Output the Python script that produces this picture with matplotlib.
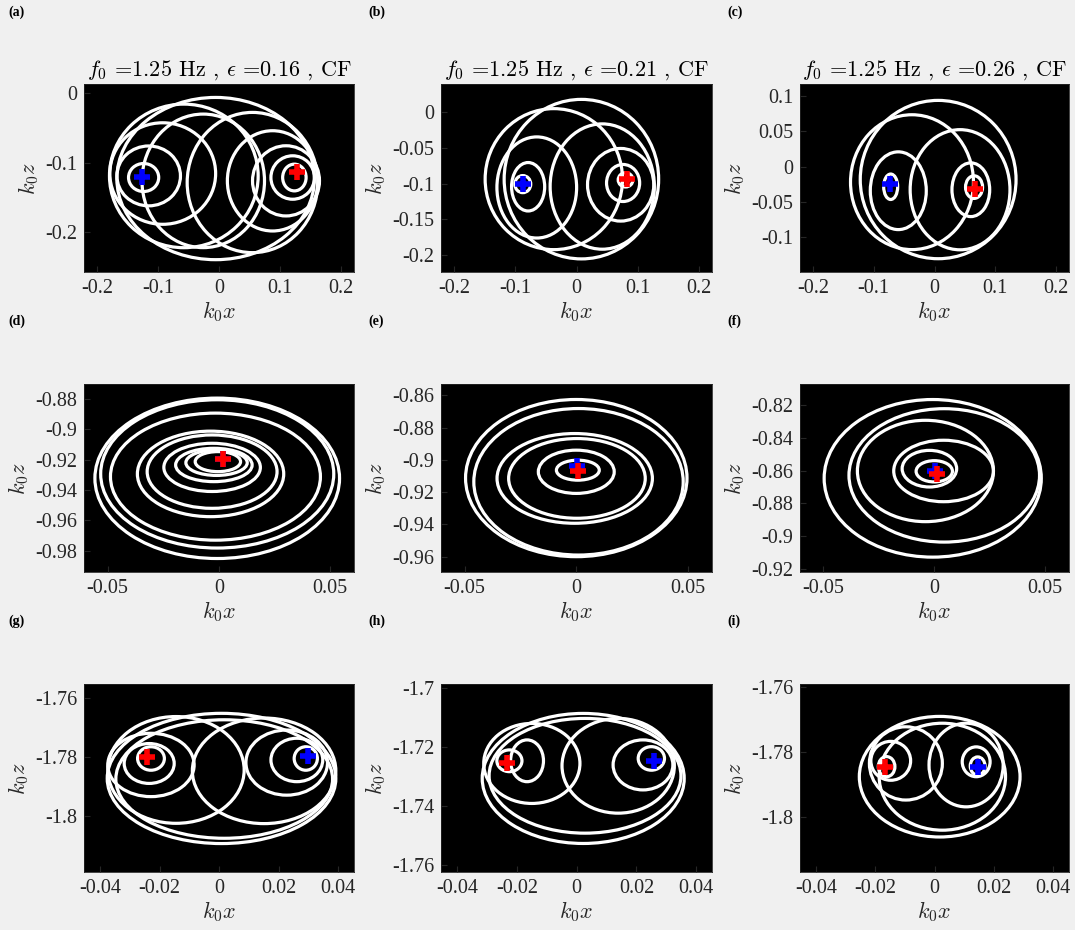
import numpy as np
import matplotlib
matplotlib.use('Agg')
import matplotlib.pyplot as plt
from matplotlib.patches import Ellipse

plt.rcParams['mathtext.fontset'] = 'cm'
plt.rcParams['axes.unicode_minus'] = False
plt.rcParams['font.family'] = ['Liberation Serif', 'DejaVu Serif']

f0 = 1.25
eps_vals = [0.16, 0.21, 0.26]
panel_tags = ['(a)', '(b)', '(c)', '(d)', '(e)', '(f)', '(g)', '(h)', '(i)']

# orbit loops of each run: (centre x, centre z, half-width, half-height)
loops_a = [(-0.1234, -0.1213, 0.0247, 0.0201), (-0.1151, -0.1190, 0.0520, 0.0430),
           (-0.0921, -0.1156, 0.0866, 0.0729), (-0.0576, -0.1190, 0.1217, 0.1031),
           (-0.0258, -0.1261, 0.1003, 0.0959), (-0.0055, -0.1228, 0.1617, 0.1165),
           (0.0548, -0.1285, 0.1069, 0.1007), (0.0877, -0.1261, 0.0740, 0.0720),
           (0.1097, -0.1261, 0.0548, 0.0504), (0.1206, -0.1213, 0.0356, 0.0312),
           (0.1234, -0.1213, 0.0192, 0.0192)]
loops_b = [(-0.0876, -0.1006, 0.013, 0.012), (-0.0789, -0.1043, 0.027, 0.034),
           (-0.0648, -0.1053, 0.065, 0.071), (-0.0370, -0.0936, 0.112, 0.099),
           (0.0080, -0.0936, 0.126, 0.112), (0.0420, -0.1040, 0.085, 0.088),
           (0.0720, -0.1015, 0.054, 0.051), (0.0760, -0.0990, 0.027, 0.026),
           (0.0800, -0.0946, 0.012, 0.010)]
loops_c = [(-0.0720, -0.0284, 0.0115, 0.018), (-0.0595, -0.0340, 0.046, 0.055),
           (-0.0370, -0.0219, 0.101, 0.0954), (0.0060, -0.0182, 0.128, 0.112),
           (0.0420, -0.0326, 0.082, 0.085), (0.0597, -0.0326, 0.031, 0.038),
           (0.0650, -0.0289, 0.014, 0.016)]
loops_d = [(-0.0007, -0.9322, 0.0550, 0.0529), (-0.0007, -0.9293, 0.0524, 0.0489),
           (-0.0015, -0.9311, 0.0472, 0.0419), (-0.0037, -0.9293, 0.0329, 0.0282),
           (-0.0030, -0.9278, 0.0292, 0.0242), (-0.0030, -0.9250, 0.0217, 0.0159),
           (-0.0022, -0.9234, 0.0172, 0.0110), (-0.0010, -0.9219, 0.0138, 0.0084),
           (-0.0004, -0.9212, 0.0102, 0.0066)]
loops_e = [(0.0000, -0.9113, 0.0496, 0.0487), (0.0010, -0.9136, 0.0469, 0.0454),
           (-0.0007, -0.9115, 0.0348, 0.0278), (0.0003, -0.9115, 0.0306, 0.0247),
           (0.0000, -0.9074, 0.0170, 0.0134), (0.0007, -0.9064, 0.0096, 0.0062)]
loops_f = [(-0.0007, -0.8647, 0.0490, 0.0482), (0.0045, -0.8629, 0.0430, 0.0408),
           (-0.0040, -0.8602, 0.0307, 0.0310), (0.0042, -0.8602, 0.0225, 0.0188),
           (-0.0022, -0.8588, 0.0123, 0.0112), (0.0000, -0.8604, 0.0082, 0.0065)]
loops_g = [(-0.0229, -1.7805, 0.0045, 0.0040), (-0.0235, -1.7822, 0.0084, 0.0068),
           (-0.0229, -1.7827, 0.0145, 0.0108), (-0.0145, -1.7844, 0.0229, 0.0182),
           (0.0008, -1.7873, 0.0384, 0.0222), (0.0017, -1.7875, 0.0364, 0.0202),
           (0.0151, -1.7847, 0.0241, 0.0180), (0.0227, -1.7819, 0.0137, 0.0111),
           (0.0261, -1.7810, 0.0087, 0.0074), (0.0291, -1.7805, 0.0039, 0.0040)]
loops_h = [(-0.0225, -1.7246, 0.0042, 0.0037), (-0.0166, -1.7246, 0.0055, 0.0071),
           (-0.0150, -1.7255, 0.0161, 0.0136), (0.0022, -1.7306, 0.0338, 0.0221),
           (0.0028, -1.7297, 0.0321, 0.0195), (0.0139, -1.7263, 0.0188, 0.0161),
           (0.0222, -1.7260, 0.0100, 0.0085), (0.0250, -1.7238, 0.0044, 0.0040)]
loops_i = [(-0.0162, -1.7845, 0.0028, 0.0031), (-0.0148, -1.7827, 0.0067, 0.0060),
           (-0.0097, -1.7835, 0.0123, 0.0113), (0.0017, -1.7876, 0.0271, 0.0186),
           (0.0026, -1.7876, 0.0213, 0.0165), (0.0106, -1.7840, 0.0125, 0.0129),
           (0.0140, -1.7830, 0.0047, 0.0046), (0.0145, -1.7843, 0.0025, 0.0028)]
all_loops = [loops_a, loops_b, loops_c, loops_d, loops_e, loops_f, loops_g, loops_h, loops_i]

# start (blue) and end (red) positions
blue_pos = [(-0.126, -0.1204), (-0.088, -0.1006), (-0.0726, -0.0251),
            (0.0019, -0.9196), (0.0003, -0.9039), (0.0004, -0.8600),
            (0.0297, -1.7795), (0.0258, -1.7246), (0.0145, -1.7847)]
red_pos = [(0.127, -0.1132), (0.083, -0.0936), (0.0667, -0.0312),
           (0.0019, -0.9196), (0.0007, -0.9070), (0.0012, -0.8618),
           (-0.0241, -1.7800), (-0.0233, -1.7252), (-0.0167, -1.7847)]

xlims = [(-0.221, 0.221)] * 3 + [(-0.0606, 0.0608)] * 3 + [(-0.0454, 0.0453)] * 3
ylims = [(-0.257, 0.013), (-0.224, 0.040), (-0.149, 0.117),
         (-0.994, -0.870), (-0.9695, -0.853), (-0.922, -0.807),
         (-1.8192, -1.7551), (-1.7624, -1.6985), (-1.817, -1.759)]
xticks = [[-0.2, -0.1, 0, 0.1, 0.2]] * 3 + [[-0.05, 0, 0.05]] * 3 + [[-0.04, -0.02, 0, 0.02, 0.04]] * 3
yticks = [[-0.2, -0.1, 0], [-0.2, -0.15, -0.1, -0.05, 0], [-0.1, -0.05, 0, 0.05, 0.1],
          [-0.98, -0.96, -0.94, -0.92, -0.9, -0.88], [-0.96, -0.94, -0.92, -0.9, -0.88, -0.86],
          [-0.92, -0.9, -0.88, -0.86, -0.84, -0.82],
          [-1.8, -1.78, -1.76], [-1.76, -1.74, -1.72, -1.7], [-1.8, -1.78, -1.76]]

W, H = 1075, 930
col_px = [(84, 354), (441, 712), (800, 1069)]
row_px = [(84, 272), (384, 572), (684, 872)]
tag_px = [8, 368, 727]
tag_py = [12, 321, 621]

fig = plt.figure(figsize=(W / 100, H / 100), dpi=100, facecolor='#f0f0f0')

for k in range(9):
    r, c = divmod(k, 3)
    x0, x1 = col_px[c]
    y0, y1 = row_px[r]
    ax = fig.add_axes([x0 / W, 1 - y1 / H, (x1 - x0) / W, (y1 - y0) / H])
    ax.set_facecolor('black')

    for cx, cz, rx, rz in all_loops[k]:
        ax.add_patch(Ellipse((cx, cz), 2 * rx, 2 * rz, fill=False,
                             edgecolor='white', linewidth=2.3))
    ax.plot(*blue_pos[k], marker='+', color='blue', markersize=12, mew=4)
    ax.plot(*red_pos[k], marker='+', color='red', markersize=12, mew=4)

    ax.set_xlim(*xlims[k])
    ax.set_ylim(*ylims[k])
    ax.set_xticks(xticks[k])
    ax.set_xticklabels([f'{v:g}' for v in xticks[k]])
    ax.set_yticks(yticks[k])
    ax.set_yticklabels([f'{v:g}' for v in yticks[k]])
    ax.tick_params(direction='in', length=4, color='#262626', labelcolor='#262626',
                   labelsize=14.5, pad=5)
    for sp in ax.spines.values():
        sp.set_color('#262626')
        sp.set_linewidth(0.6)

    ax.set_xlabel(r'$k_0x$', fontsize=16, color='#262626', labelpad=1)
    ax.set_ylabel(r'$k_0z$', fontsize=16, color='#262626', labelpad=3)
    if r == 0:
        ax.set_title(rf'$f_0$ =1.25 Hz , $\epsilon$ =' + f'{eps_vals[c]:.2f} , CF',
                     fontsize=16, family='cmr10', color='black', pad=6)

    fig.text(tag_px[c] / W, 1 - tag_py[r] / H, panel_tags[k], fontsize=10,
             fontweight='bold', ha='left', va='center')

fig.savefig('out.png', dpi=100, facecolor=fig.get_facecolor())
